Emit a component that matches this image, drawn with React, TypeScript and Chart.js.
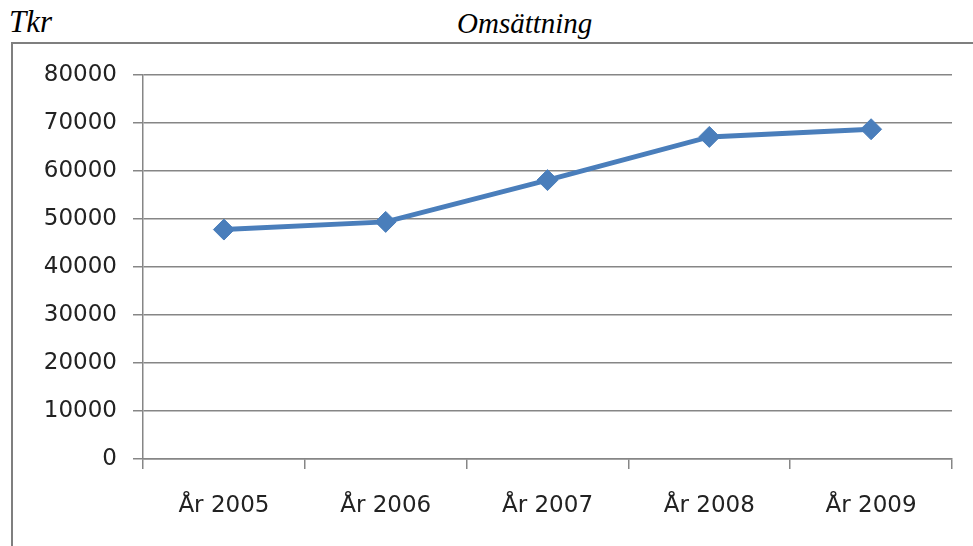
import React, { useEffect, useRef } from "react";
import { Chart, registerables } from "chart.js";

Chart.register(...registerables);

const categories = ["År 2005", "År 2006", "År 2007", "År 2008", "År 2009"];
const omsattning = [47800, 49400, 58100, 67100, 68700];
const yMin = 0;
const yMax = 80000;
const yStep = 10000;
const unitLabel = "Tkr";
const titleLabel = "Omsättning";

export default function App() {
  const ref = useRef<HTMLCanvasElement | null>(null);

  useEffect(() => {
    if (!ref.current) return;
    const grid = "#868686";
    const chart = new Chart(ref.current, {
      type: "line",
      data: {
        labels: categories,
        datasets: [
          {
            data: omsattning,
            borderColor: "#4a7ebb",
            backgroundColor: "#4a7ebb",
            borderWidth: 5,
            pointStyle: "rectRot",
            pointRadius: 10.5,
            pointBorderWidth: 1,
            pointBackgroundColor: "#4a7ebb",
            pointBorderColor: "#4a7ebb",
            tension: 0,
          },
        ],
      },
      options: {
        responsive: false,
        animation: false,
        layout: { padding: { top: 31, right: 21, left: 0, bottom: 0 } },
        plugins: { legend: { display: false }, tooltip: { enabled: false } },
        scales: {
          x: {
            offset: true,
            grid: {
              offset: true,
              drawOnChartArea: false,
              drawTicks: true,
              tickLength: 10,
              color: grid,
              lineWidth: 1.5,
            },
            border: { color: grid, width: 1.5 },
            ticks: {
              padding: 23,
              color: "#222",
              font: { family: "'DejaVu Sans'", size: 23 },
              maxRotation: 0,
            },
            afterFit: (s: any) => {
              s.height = 87;
            },
          },
          y: {
            min: yMin,
            max: yMax,
            grid: {
              color: grid,
              lineWidth: 1.5,
              tickLength: 10,
              drawTicks: true,
            },
            border: { color: grid, width: 1.5 },
            ticks: {
              stepSize: yStep,
              padding: 16,
              color: "#222",
              font: { family: "'DejaVu Sans'", size: 23 },
              callback: (v: any) => String(v),
            },
            afterFit: (s: any) => {
              s.width = 130;
            },
          },
        },
      },
    });
    return () => chart.destroy();
  }, []);

  const titleFont: React.CSSProperties = {
    position: "absolute",
    fontFamily: "'Liberation Serif', 'Times New Roman', serif",
    fontStyle: "italic",
    fontSize: 29,
    lineHeight: "29px",
    color: "#000",
    top: 9,
    whiteSpace: "nowrap",
  };

  return (
    <div
      style={{
        position: "absolute",
        left: 0,
        top: 0,
        width: 973,
        height: 546,
        overflow: "hidden",
        background: "#fff",
      }}
    >
      <div style={{ ...titleFont, left: 9, fontSize: 31, top: 7 }}>{unitLabel}</div>
      <div style={{ ...titleFont, left: 457 }}>{titleLabel}</div>
      <div
        style={{
          position: "absolute",
          left: 11,
          top: 42,
          width: 980,
          height: 520,
          borderLeft: "2px solid #7f7f7f",
          borderTop: "2px solid #7f7f7f",
        }}
      />
      <canvas
        ref={ref}
        width={960}
        height={502}
        style={{ position: "absolute", left: 13, top: 44, width: 960, height: 502 }}
      />
    </div>
  );
}
